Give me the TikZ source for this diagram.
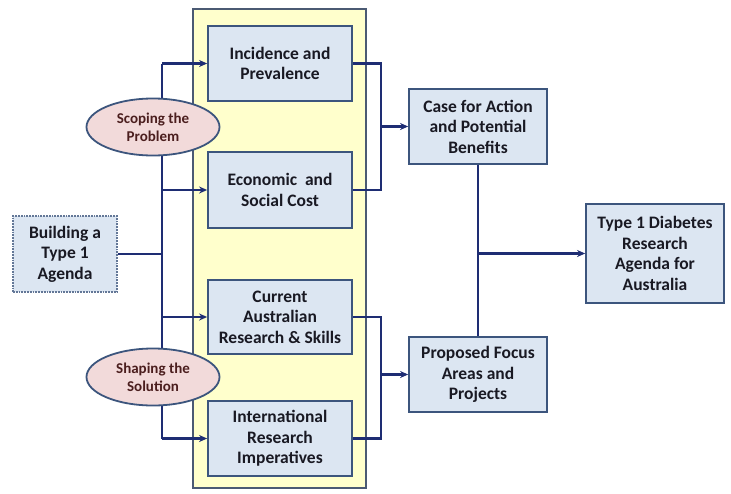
\documentclass[tikz,border=0pt]{standalone}
\usepackage{fontspec}
\setmainfont{Carlito}
\usetikzlibrary{arrows.meta}
\usetikzlibrary{shapes.geometric}

\definecolor{linenavy}{RGB}{30,45,115}
\definecolor{boxedge}{RGB}{60,85,125}
\definecolor{boxfill}{RGB}{220,230,242}
\definecolor{panelfill}{RGB}{255,255,204}
\definecolor{paneledge}{RGB}{75,90,115}
\definecolor{ovalfill}{RGB}{242,218,218}
\definecolor{ovaltext}{RGB}{75,30,30}
\definecolor{txt}{RGB}{25,25,35}

\tikzset{
    stagebox/.style={rectangle,draw=boxedge,line width=1.8pt,fill=boxfill,
        text=txt,align=center,font=\fontsize{17.5}{20.5}\selectfont\bfseries,
        minimum width=144pt,inner sep=1pt},
    phase/.style={ellipse,draw=boxedge,line width=1.8pt,fill=ovalfill,
        text=ovaltext,align=center,font=\fontsize{15}{18}\selectfont\bfseries,
        minimum width=133pt,minimum height=57pt,inner sep=0pt},
    link/.style={draw=linenavy,line width=2.4pt},
}

\begin{document}
\begin{tikzpicture}[x=1pt,y=-1pt,>={Stealth[length=8pt,width=7pt]}]
        \useasboundingbox[fill=white] (0,0) rectangle (731,493);
        \node[rectangle,draw=paneledge,line width=1.8pt,fill=panelfill,
            minimum width=173pt,minimum height=479pt] (panel) at (279.5,248.5) {};

        \node[stagebox,minimum height=75pt] (inc) at (280,63.5) {Incidence and\\Prevalence};
        \node[stagebox,minimum height=76pt] (eco) at (280,190) {Economic\ \ and\\Social Cost};
        \node[stagebox,minimum height=74pt] (cur) at (280,317) {Current\\Australian\\Research \& Skills};
        \node[stagebox,minimum height=75pt] (int) at (280,438.5) {International\\Research\\Imperatives};
        \node[stagebox,draw=boxedge!80,densely dotted,minimum width=104pt,minimum height=76pt] (build) at (65,254) {Building a\\Type 1\\Agenda};
        \node[stagebox,minimum width=138pt,minimum height=75pt] (case) at (478,126.5) {Case for Action\\and Potential\\Benefits};
        \node[stagebox,minimum width=138pt,minimum height=75pt] (prop) at (478,374.5) {Proposed Focus\\Areas and\\Projects};
        \node[stagebox,minimum width=138pt,minimum height=99pt] (type) at (655,253.5) {Type 1 Diabetes\\Research\\Agenda for\\Australia};

        \coordinate (btop) at (162,63.5);
        \coordinate (bbot) at (162,438.5);
        \coordinate (jA) at (381,126.5);
        \coordinate (jB) at (381,374.5);

        % left bus
        \draw[link] (btop) -- (bbot);
        \draw[link] (build.east) -- (build.east -| btop);
        \draw[link,->] (btop) -- (inc.west);
        \draw[link,->] (eco.west -| btop) -- (eco.west);
        \draw[link,->] (cur.west -| btop) -- (cur.west);
        \draw[link,->] (bbot) -- (int.west);

        % right side
        \draw[link] (inc.east) -| (jA) |- (eco.east);
        \draw[link,->] (jA) -- (case.west);
        \draw[link] (cur.east) -| (jB) |- (int.east);
        \draw[link,->] (jB) -- (prop.west);
        \draw[link] (case.south) -- (prop.north);
        \draw[link,->] (case.south |- type.west) -- (type.west);

        \node[phase] (scope) at (153,127) {Scoping the\\Problem};
        \node[phase] (shape) at (153,377) {Shaping the\\Solution};
    \end{tikzpicture}
\end{document}
